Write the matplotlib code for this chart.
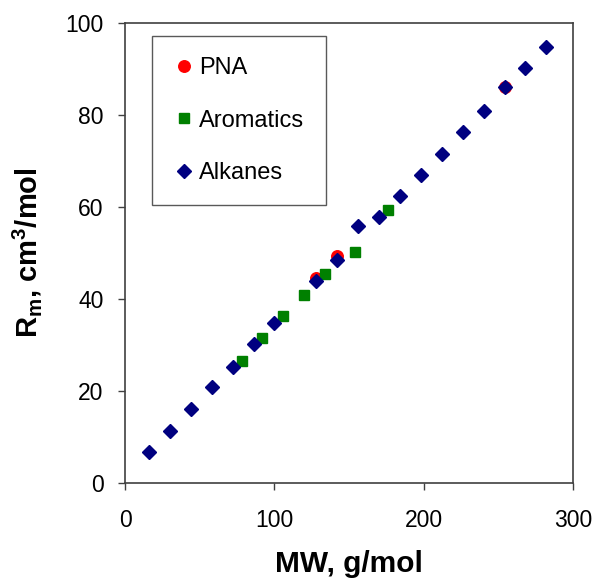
import matplotlib
matplotlib.use("Agg")
import matplotlib.pyplot as plt

plt.rcParams['font.family'] = ['Liberation Sans', 'DejaVu Sans']
plt.rcParams['mathtext.default'] = 'regular'

# Data
pna_mw = [128, 142, 254]
pna_rm = [44.4, 49.3, 86.0]

arom_mw = [78, 92, 106, 120, 134, 154, 176]
arom_rm = [26.5, 31.5, 36.2, 40.7, 45.3, 50.2, 59.2]

alk_mw = [16, 30, 44, 58, 72, 86, 100, 128, 142, 156, 170, 184, 198, 212, 226, 240, 254, 268, 282]
alk_rm = [6.7, 11.3, 16.0, 20.7, 25.2, 30.1, 34.8, 43.8, 48.4, 55.8, 57.7, 62.3, 67.0, 71.4, 76.2, 80.7, 86.0, 90.2, 94.8]

x_ticks = [0, 100, 200, 300]
y_ticks = [0, 20, 40, 60, 80, 100]

fig = plt.figure(figsize=(5.97, 5.79), dpi=100)
ax = fig.add_axes([0.2094, 0.1663, 0.7509, 0.7945])

ax.plot(pna_mw, pna_rm, linestyle='none', marker='o', ms=8.3, color='#FF0000', mec='#FF0000', label='PNA', zorder=3)
ax.plot(arom_mw, arom_rm, linestyle='none', marker='s', ms=7.0, color='#008000', mec='#008000', label='Aromatics', zorder=4)
ax.plot(alk_mw, alk_rm, linestyle='none', marker='D', ms=6.8, color='#000080', mec='#000080', label='Alkanes', zorder=5)

ax.set_xlim(0, 300)
ax.set_ylim(0, 100)
ax.set_xticks(x_ticks)
ax.set_yticks(y_ticks)
ax.tick_params(direction='out', length=5, width=1, color='#404040', labelsize=16.5, labelcolor='black')
ax.tick_params(axis='x', pad=14)
ax.tick_params(axis='y', pad=10.5)
for s in ax.spines.values():
    s.set_color('#404040')
    s.set_linewidth(1.2)

ax.set_xlabel('MW, g/mol', fontsize=21.5, fontweight='bold', labelpad=13)
ax.set_ylabel(r'R$_{m}$, cm$^{3}$/mol', fontsize=21, fontweight='bold', labelpad=15)

leg = ax.legend(loc='upper left', bbox_to_anchor=(0.060, 0.972), fontsize=17,
                frameon=True, fancybox=False, shadow=False, borderpad=0.9,
                labelspacing=1.3, handletextpad=0.15, handlelength=0.95, borderaxespad=0)
leg.get_frame().set_edgecolor('#303030')
leg.get_frame().set_linewidth(1.0)

fig.savefig('out.png', dpi=100)
